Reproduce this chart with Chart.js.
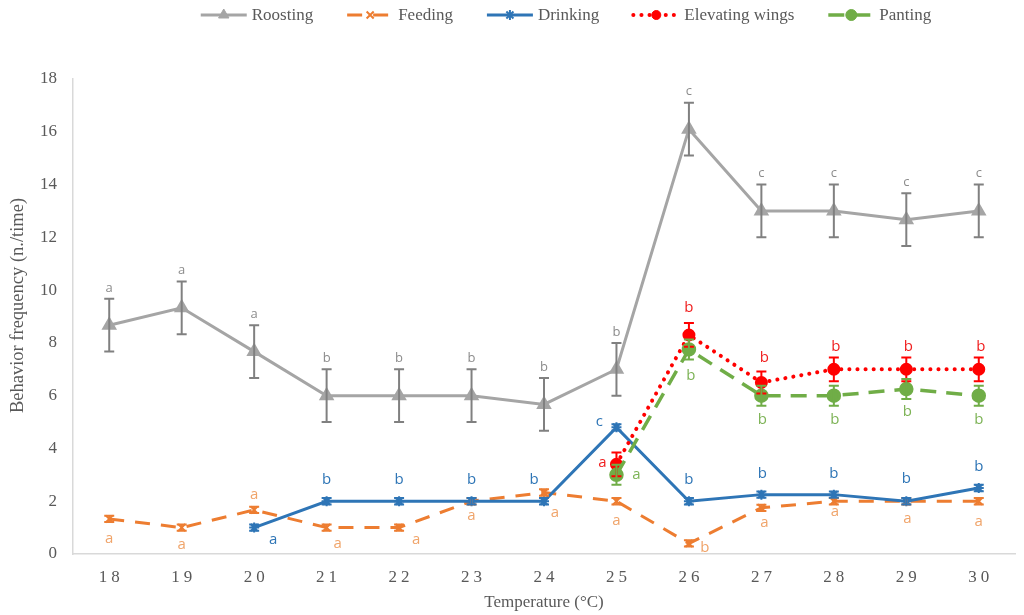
<!DOCTYPE html>
<html><head><meta charset="utf-8">
<script src="https://cdn.jsdelivr.net/npm/chart.js@4.4.1/dist/chart.umd.min.js"></script>
<style>html,body{margin:0;padding:0;background:#fff;}#wrap{width:1024px;height:615px;position:relative;}</style>
</head><body><div id="wrap"><canvas id="c"></canvas></div>
<script>
// ---------- DATA ----------
const temperatures = ['18','19','20','21','22','23','24','25','26','27','28','29','30'];
const roosting   = [8.67, 9.33, 7.67, 6, 6, 6, 5.67, 7, 16.1, 13, 13, 12.67, 13];
const roostingErr= [1, 1, 1, 1, 1, 1, 1, 1, 1, 1, 1, 1, 1];
const feeding    = [1.33, 1.0, 1.67, 1.0, 1.0, 2.0, 2.33, 2.0, 0.4, 1.75, 2.0, 2.0, 2.0];
const feedingErr = [0.12, 0.12, 0.12, 0.12, 0.12, 0.12, 0.12, 0.12, 0.12, 0.12, 0.12, 0.12, 0.12];
const drinking   = [null, null, 1.0, 2.0, 2.0, 2.0, 2.0, 4.8, 2.0, 2.25, 2.25, 2.0, 2.5];
const drinkingErr= [0, 0, 0.12, 0.12, 0.12, 0.12, 0.12, 0.12, 0.12, 0.12, 0.12, 0.12, 0.12];
const elevating  = [null, null, null, null, null, null, null, 3.4, 8.3, 6.5, 7.0, 7.0, 7.0];
const elevatingErr=[0, 0, 0, 0, 0, 0, 0, 0.45, 0.45, 0.42, 0.45, 0.45, 0.45];
const panting    = [null, null, null, null, null, null, null, 3.0, 7.75, 6.0, 6.0, 6.25, 6.0];
const pantingErr = [0, 0, 0, 0, 0, 0, 0, 0.38, 0.38, 0.38, 0.38, 0.38, 0.38];
const roostingLetters  = ['a','a','a','b','b','b','b','b','c','c','c','c','c'];
const feedingLetters   = ['a','a','a','a','a','a','a','a','b','a','a','a','a'];
const drinkingLetters  = [null,null,'a','b','b','b','b','c','b','b','b','b','b'];
const elevatingLetters = [null,null,null,null,null,null,null,'a','b','b','b','b','b'];
const pantingLetters   = [null,null,null,null,null,null,null,'a','b','b','b','b','b'];
const yMin = 0, yMax = 18, yStep = 2;
const xTitle = 'Temperature (°C)';
const yTitle = 'Behavior frequency (n./time)';

// ---------- STYLE (label placement offsets in px relative to the point) ----------
const feedingOff  = [[0,20],[0,17],[0,-15],[11,16],[17,12],[0,15],[11,20],[0,20],[16,4],[3,15],[1,11],[1,18],[0,21]];
const drinkingOff = [null,null,[19,12],[0,-21],[0,-21],[0,-21],[-10,-21],[-17,-6],[0,-21],[1,-21],[0,-21],[0,-22],[0,-21]];
const elevOff     = [null,null,null,null,null,null,null,[-14,-2],[0,-27],[3,-25],[2,-23],[2,-23],[2,-23]];
const pantOff     = [null,null,null,null,null,null,null,[20,0],[2,26],[1,24],[1,24],[1,23],[0,24]];

const SERIF = '"Liberation Serif","Times New Roman",serif';
const SANS = '"Open Sans","Noto Sans",sans-serif';
const GREY_TXT = '#595959';

const datasets = [
  {label:'Roosting', data:roosting, errors:roostingErr, letters:roostingLetters, letterMode:'above',
   letterColor:'#8c8c8c', letterSize:13, errColor:'#808080',
   borderColor:'#A5A5A5', backgroundColor:'#A5A5A5', borderWidth:3, pointStyle:'triangle', pointRadius:6,
   pointBorderColor:'#A5A5A5', pointBackgroundColor:'#A5A5A5', order:5, dash:[]},
  {label:'Feeding', data:feeding, errors:feedingErr, letters:feedingLetters, offsets:feedingOff,
   letterColor:'#F0A46A', letterSize:15, errColor:'#ED7D31',
   borderColor:'#ED7D31', backgroundColor:'#ED7D31', borderWidth:3, borderDash:[15,11], pointStyle:'crossRot', pointRadius:5,
   pointBorderWidth:2, pointBorderColor:'#ED7D31', order:4, dash:[15,11]},
  {label:'Drinking', data:drinking, errors:drinkingErr, letters:drinkingLetters, offsets:drinkingOff,
   letterColor:'#2E75B6', letterSize:15, errColor:'#2E75B6',
   borderColor:'#2E75B6', backgroundColor:'#2E75B6', borderWidth:3, pointStyle:'star', pointRadius:5,
   pointBorderWidth:2, pointBorderColor:'#2E75B6', order:3, dash:[]},
  {label:'Elevating wings', data:elevating, errors:elevatingErr, letters:elevatingLetters, offsets:elevOff,
   letterColor:'#F02020', letterSize:15, errColor:'#FF0000',
   borderColor:'#FF0000', backgroundColor:'#FF0000', borderWidth:4, borderDash:[0.1,8], borderCapStyle:'round',
   pointStyle:'circle', pointRadius:4.5, pointBorderColor:'#FF0000', pointBackgroundColor:'#FF0000', order:2, dash:[0.1,8], cap:'round'},
  {label:'Panting', data:panting, errors:pantingErr, letters:pantingLetters, offsets:pantOff,
   letterColor:'#7DB356', letterSize:15, errColor:'#70AD47',
   borderColor:'#70AD47', backgroundColor:'#70AD47', borderWidth:3.5, borderDash:[16,10],
   pointStyle:'circle', pointRadius:5.5, pointBorderColor:'#70AD47', pointBackgroundColor:'#70AD47', order:1, dash:[16,10]}
];

const extrasPlugin = {
  id:'extras',
  afterDatasetsDraw(chart){
    const ctx = chart.ctx, ys = chart.scales.y;
    chart.data.datasets.forEach((ds,i)=>{
      const meta = chart.getDatasetMeta(i);
      ctx.save();
      ctx.strokeStyle = ds.errColor; ctx.lineWidth = 2; ctx.setLineDash([]); ctx.lineCap='butt';
      meta.data.forEach((pt,j)=>{
        const v = ds.data[j]; if (v==null) return;
        const e = ds.errors[j]; if (!e) return;
        const yt = ys.getPixelForValue(v+e), yb = ys.getPixelForValue(v-e), x = pt.x;
        ctx.beginPath();
        ctx.moveTo(x,yt); ctx.lineTo(x,yb);
        ctx.moveTo(x-5,yt); ctx.lineTo(x+5,yt);
        ctx.moveTo(x-5,yb); ctx.lineTo(x+5,yb);
        ctx.stroke();
      });
      ctx.restore();
    });
  },
  afterDraw(chart){
    const ctx = chart.ctx, ys = chart.scales.y, area = chart.chartArea;
    // letters
    chart.data.datasets.forEach((ds,i)=>{
      const meta = chart.getDatasetMeta(i);
      ctx.save();
      ctx.fillStyle = ds.letterColor;
      ctx.font = ds.letterSize + 'px ' + SANS;
      ctx.textAlign='center'; ctx.textBaseline='middle';
      meta.data.forEach((pt,j)=>{
        const v = ds.data[j]; const L = ds.letters[j];
        if (v==null || !L) return;
        let x = pt.x, y = pt.y;
        if (ds.letterMode==='above') { y = ys.getPixelForValue(v+ds.errors[j]) - 11; }
        else { const o = ds.offsets[j]; x += o[0]; y += o[1]; }
        ctx.fillText(L, x, y);
      });
      ctx.restore();
    });
    // y axis title
    ctx.save();
    ctx.translate(18, (area.top + area.bottom)/2 - 11);
    ctx.rotate(-Math.PI/2);
    ctx.font = '18.5px ' + SERIF; ctx.fillStyle = GREY_TXT;
    ctx.textAlign='center'; ctx.textBaseline='middle';
    ctx.fillText(yTitle, 0, 0);
    ctx.restore();
    // legend
    ctx.save();
    ctx.font = '17px ' + SERIF;
    const lineLen = 46, gapTxt = 5, itemGap = 34, ly = 15;
    const widths = chart.data.datasets.map(d=>ctx.measureText(d.label).width);
    let total = widths.reduce((a,b)=>a+b,0) + datasets.length*(lineLen+gapTxt) + (datasets.length-1)*itemGap;
    let x = 566 - total/2;
    chart.data.datasets.forEach((ds,i)=>{
      ctx.save();
      ctx.strokeStyle = ds.borderColor; ctx.lineWidth = ds.borderWidth;
      ctx.setLineDash(ds.dash||[]); ctx.lineCap = ds.cap || 'butt';
      ctx.beginPath(); ctx.moveTo(x, ly); ctx.lineTo(x+lineLen, ly); ctx.stroke();
      ctx.restore();
      ctx.save();
      ctx.fillStyle = ds.pointBackgroundColor || ds.borderColor;
      ctx.strokeStyle = ds.pointBorderColor || ds.borderColor;
      ctx.lineWidth = ds.pointBorderWidth || 1;
      ctx.setLineDash([]);
      Chart.helpers.drawPoint(ctx, {pointStyle: ds.pointStyle, radius: ds.pointRadius, borderWidth: ds.pointBorderWidth||1, rotation:0}, x+lineLen/2, ly);
      ctx.restore();
      ctx.fillStyle = GREY_TXT; ctx.textAlign='left'; ctx.textBaseline='middle';
      ctx.fillText(ds.label, x+lineLen+gapTxt, ly+1);
      x += lineLen + gapTxt + widths[i] + itemGap;
    });
    ctx.restore();
  },
  afterLayout(chart){
    const xs = chart.scales.x;
    if (!xs._spaced) {
      const orig = xs.drawLabels.bind(xs);
      xs.drawLabels = function(a){ const c=this.ctx; c.save(); c.letterSpacing='4px'; c.translate(2,0); orig(a); c.restore(); };
      xs._spaced = true;
    }
  }
};

new Chart(document.getElementById('c'), {
  type:'line',
  data:{ labels: temperatures, datasets },
  plugins:[extrasPlugin],
  options:{
    responsive:true, maintainAspectRatio:false, animation:false,
    layout:{ padding:{ top:79, right:3, left:0, bottom:0 } },
    plugins:{ legend:{display:false}, tooltip:{enabled:false} },
    spanGaps:false,
    scales:{
      x:{ offset:true,
        grid:{display:false, drawTicks:false},
        border:{display:true, color:'#D9D9D9', width:1.5},
        ticks:{ color:GREY_TXT, font:{family:SERIF, size:17}, padding:13, maxRotation:0 },
        title:{ display:true, text:xTitle, color:GREY_TXT, font:{family:SERIF, size:17}, padding:{top:4,bottom:2} },
        afterFit(s){ s.height = 61; }
      },
      y:{ min:yMin, max:yMax,
        grid:{display:false, drawTicks:false},
        border:{display:true, color:'#D9D9D9', width:1.5},
        ticks:{ stepSize:yStep, color:GREY_TXT, font:{family:SERIF, size:17}, padding:16 },
        title:{ display:false },
        afterFit(s){ s.width = 73; }
      }
    }
  }
});
</script></body></html>
